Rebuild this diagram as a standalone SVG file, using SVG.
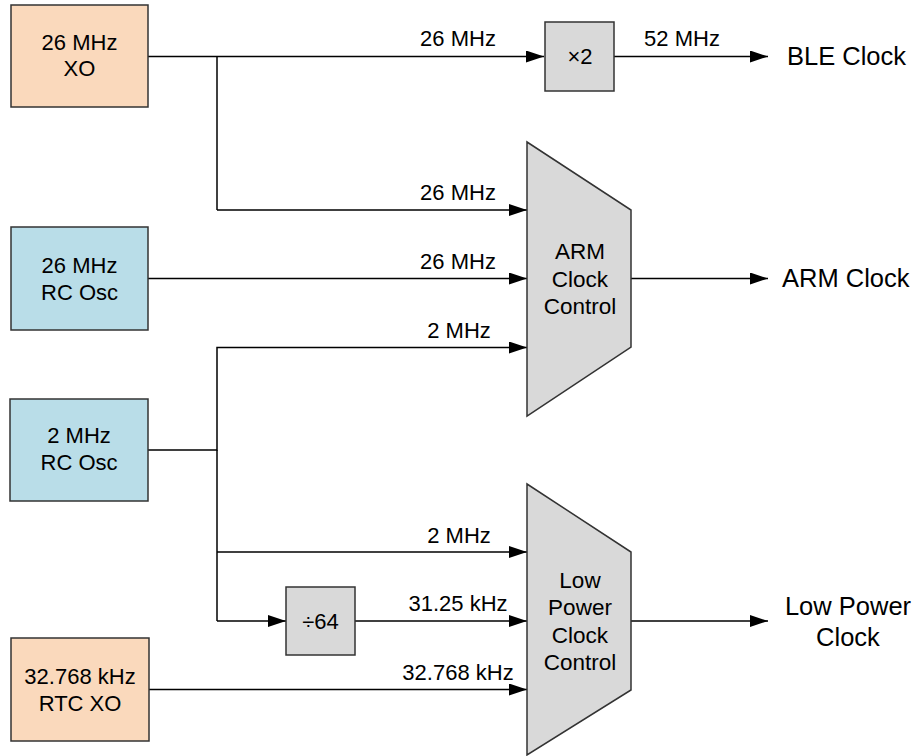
<svg xmlns="http://www.w3.org/2000/svg" width="917" height="756" viewBox="0 0 917 756">
<style>
text{font-family:"Liberation Sans",Arial,sans-serif;fill:#000}
.box{stroke:#333;stroke-width:1.5}
.xo{fill:#FAD9BC}
.rc{fill:#B9DDE8}
.gr{fill:#D9D9D9}
.bt{font-size:22px;text-anchor:middle}
.el{font-size:22px;text-anchor:middle}
.mt{font-size:22.5px;text-anchor:middle}
.ot{font-size:25.5px}
.c{fill:none;stroke:#000;stroke-width:1.5}
.a{marker-end:url(#ah)}
</style>
<defs>
<marker id="ah" markerUnits="userSpaceOnUse" markerWidth="18" markerHeight="12" refX="18" refY="6" orient="auto">
<path d="M0,0 L18,6 L0,12 z" fill="#000"/>
</marker>
</defs>
<rect width="917" height="756" fill="#fff"/>
<g id="connectors">
<path class="c a" d="M148,56.5 H544"/>
<path class="c" d="M217,56.5 V210"/>
<path class="c a" d="M217,210 H527"/>
<path class="c a" d="M148,278.5 H527"/>
<path class="c a" d="M148,450 H217 V347.5 H527"/>
<path class="c" d="M217,450 V621"/>
<path class="c a" d="M217,552 H527"/>
<path class="c a" d="M217,621 H286"/>
<path class="c a" d="M355,621 H527"/>
<path class="c a" d="M149,689.5 H527"/>
<path class="c a" d="M614,56.5 H768"/>
<path class="c a" d="M631,278.5 H768"/>
<path class="c a" d="M631,621 H768"/>
<text class="el" x="458" y="46">26 MHz</text>
<text class="el" x="682" y="46">52 MHz</text>
<text class="el" x="458" y="200">26 MHz</text>
<text class="el" x="458" y="269">26 MHz</text>
<text class="el" x="459" y="338">2 MHz</text>
<text class="el" x="459" y="543">2 MHz</text>
<text class="el" x="458" y="611">31.25 kHz</text>
<text class="el" x="458" y="680">32.768 kHz</text>
</g>
<g id="xo26">
<rect class="box xo" x="11" y="5" width="137" height="102"/>
<text class="bt" x="79.5" y="50">26 MHz</text>
<text class="bt" x="79.5" y="76">XO</text>
</g>
<g id="rc26">
<rect class="box rc" x="11" y="227" width="137" height="103"/>
<text class="bt" x="79.5" y="273">26 MHz</text>
<text class="bt" x="79.5" y="300">RC Osc</text>
</g>
<g id="rc2">
<rect class="box rc" x="10" y="399" width="138" height="102"/>
<text class="bt" x="79" y="443">2 MHz</text>
<text class="bt" x="79" y="470">RC Osc</text>
</g>
<g id="rtcxo">
<rect class="box xo" x="11" y="638" width="138" height="103"/>
<text class="bt" x="80" y="684">32.768 kHz</text>
<text class="bt" x="80" y="711">RTC XO</text>
</g>
<g id="mult2">
<rect class="box gr" x="545" y="22" width="69" height="69"/>
<text class="bt" x="580" y="64">×2</text>
</g>
<g id="div64">
<rect class="box gr" x="286" y="587" width="69" height="68"/>
<text class="bt" x="320.5" y="629">÷64</text>
</g>
<g id="armmux">
<path class="box gr" d="M527,142 L631,210 L631,347 L527,416 Z"/>
<text class="mt" x="580" y="259">ARM</text>
<text class="mt" x="580" y="287">Clock</text>
<text class="mt" x="580" y="314">Control</text>
</g>
<g id="lpmux">
<path class="box gr" d="M527,484 L631,552 L631,690 L527,755 Z"/>
<text class="mt" x="580" y="588">Low</text>
<text class="mt" x="580" y="615">Power</text>
<text class="mt" x="580" y="643">Clock</text>
<text class="mt" x="580" y="670">Control</text>
</g>
<g id="outputs">
<text class="ot" x="787" y="65">BLE Clock</text>
<text class="ot" x="782" y="287">ARM Clock</text>
<text class="ot" x="848" y="615" text-anchor="middle">Low Power</text>
<text class="ot" x="848" y="646" text-anchor="middle">Clock</text>
</g>
</svg>
